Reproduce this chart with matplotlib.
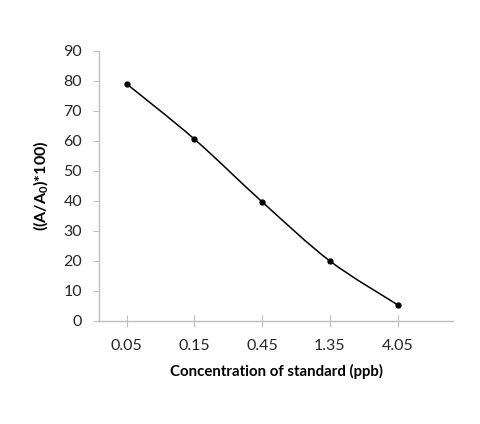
import matplotlib

matplotlib.use("Agg")
import matplotlib.pyplot as plt
import numpy as np
from matplotlib.path import Path
from matplotlib.patches import PathPatch

concentrations = ["0.05", "0.15", "0.45", "1.35", "4.05"]
ratio_pct = [79.0, 60.6, 39.7, 20.0, 5.4]

plt.rcParams["font.family"] = ["Lato", "DejaVu Sans"]

fig = plt.figure(figsize=(4.8, 4.24), dpi=100)
ax = fig.add_axes([0.206, 0.243, 0.738, 0.637])

x = np.arange(len(concentrations), dtype=float)
y = np.array(ratio_pct)

# Excel-style smoothed line: cubic Bezier segments with Catmull-Rom tangents
pts = np.column_stack([x, y])
verts = [pts[0]]
codes = [Path.MOVETO]
for i in range(len(pts) - 1):
    p0 = pts[i - 1] if i > 0 else pts[i]
    p1, p2 = pts[i], pts[i + 1]
    p3 = pts[i + 2] if i + 2 < len(pts) else pts[i + 1]
    c1 = p1 + (p2 - p0) / 6.0
    c2 = p2 - (p3 - p1) / 6.0
    verts += [c1, c2, p2]
    codes += [Path.CURVE4] * 3
ax.add_patch(PathPatch(Path(verts, codes), fill=False, color="black", lw=1.1))
ax.plot(x, y, "o", color="black", ms=3.5, zorder=3)

ax.set_xlim(-0.41, 4.82)
ax.set_ylim(0, 90)
ax.set_yticks(range(0, 91, 10))
ax.set_xticks(x)
ax.set_xticklabels(concentrations)

for side in ("top", "right"):
    ax.spines[side].set_visible(False)
for side in ("left", "bottom"):
    ax.spines[side].set_color("#bfbfbf")
    ax.spines[side].set_linewidth(1.0)

ax.tick_params(axis="y", direction="out", length=4, color="#bfbfbf",
               labelsize=11.5, labelcolor="#262626", pad=8)
ax.tick_params(axis="x", direction="inout", length=8, color="#bfbfbf",
               labelsize=11.5, labelcolor="#262626", pad=9)

ax.set_xlabel("Concentration of standard (ppb)", fontsize=10.8,
              fontweight="bold", labelpad=8)
ax.set_ylabel("((A/A$_\\mathregular{0}$)*100)", fontsize=11.5,
              fontweight="bold", labelpad=9)

fig.savefig("out.png", dpi=100)
